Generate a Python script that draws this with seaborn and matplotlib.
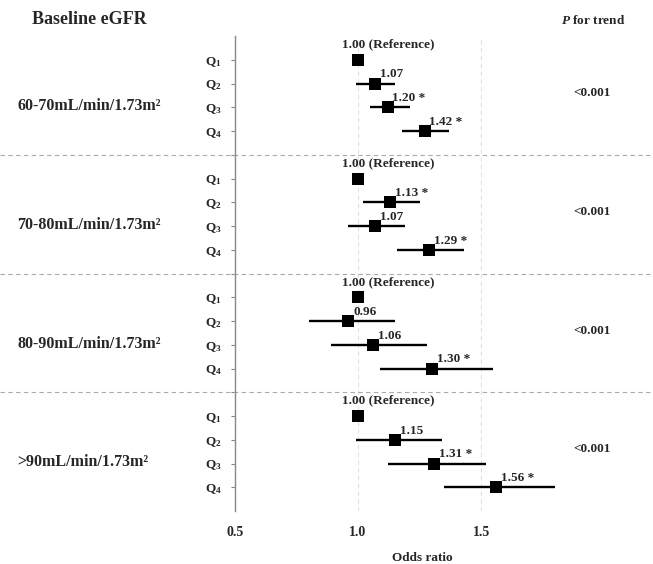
import matplotlib
matplotlib.use("Agg")
import matplotlib.pyplot as plt
import matplotlib.transforms as mtransforms
import numpy as np
import pandas as pd
import seaborn as sns

# ---------------- data ----------------
groups = ["60-70mL/min/1.73m²", "70-80mL/min/1.73m²", "80-90mL/min/1.73m²", ">90mL/min/1.73m²"]
quartiles = ["Q$_1$", "Q$_2$", "Q$_3$", "Q$_4$"]
# plotted point positions (as drawn in the figure)
or_g1 = [1.00, 1.07, 1.12, 1.27]
or_g2 = [1.00, 1.13, 1.07, 1.29]
or_g3 = [1.00, 0.96, 1.06, 1.30]
or_g4 = [1.00, 1.15, 1.31, 1.56]
lo_g1 = [np.nan, 0.99, 1.05, 1.18]
hi_g1 = [np.nan, 1.15, 1.21, 1.37]
lo_g2 = [np.nan, 1.02, 0.96, 1.16]
hi_g2 = [np.nan, 1.25, 1.19, 1.43]
lo_g3 = [np.nan, 0.80, 0.89, 1.09]
hi_g3 = [np.nan, 1.15, 1.28, 1.55]
lo_g4 = [np.nan, 0.99, 1.12, 1.35]
hi_g4 = [np.nan, 1.34, 1.52, 1.80]
# printed value labels
lab_g1 = ["1.00 (Reference)", "1.07", "1.20 *", "1.42 *"]
lab_g2 = ["1.00 (Reference)", "1.13 *", "1.07", "1.29 *"]
lab_g3 = ["1.00 (Reference)", "0.96", "1.06", "1.30 *"]
lab_g4 = ["1.00 (Reference)", "1.15", "1.31 *", "1.56 *"]
p_trend = ["<0.001", "<0.001", "<0.001", "<0.001"]
x_ticks = [0.5, 1.0, 1.5]

ors = [or_g1, or_g2, or_g3, or_g4]
los = [lo_g1, lo_g2, lo_g3, lo_g4]
his = [hi_g1, hi_g2, hi_g3, hi_g4]
labs = [lab_g1, lab_g2, lab_g3, lab_g4]

rows = []
for g in range(4):
    for q in range(4):
        rows.append(dict(group=g, q=q, row=g * 5 + q + 1, OR=ors[g][q],
                         lo=los[g][q], hi=his[g][q], label=labs[g][q]))
df = pd.DataFrame(rows)

# ---------------- style ----------------
sns.set_theme(style="white")
plt.rcParams["font.family"] = ["Liberation Serif", "DejaVu Serif"]
plt.rcParams["font.weight"] = "bold"
plt.rcParams["mathtext.fontset"] = "custom"
plt.rcParams["mathtext.rm"] = "Liberation Serif:bold"
plt.rcParams["mathtext.it"] = "Liberation Serif:italic:bold"
plt.rcParams["mathtext.bf"] = "Liberation Serif:bold"

fig = plt.figure(figsize=(6.53, 5.64), dpi=100)
ax = fig.add_axes([235 / 653, 1 - 511 / 564, (555 - 235) / 653, (511 - 36) / 564])

ax.set_xlim(0.5, 1.8)
ax.set_ylim(20, 0)

# vertical light grid lines
for xv in [1.0, 1.5]:
    ax.axvline(xv, color="#e0e0e0", lw=0.8, ls=(0, (4, 3)), zorder=0)

# CI lines
ci = df.dropna(subset=["lo"])
ax.hlines(ci["row"], ci["lo"], ci["hi"], color="black", lw=1.7, zorder=2)

# markers
sns.scatterplot(data=df, x="OR", y="row", marker="s", s=72, color="black",
                edgecolor="black", linewidth=0, ax=ax, zorder=3, legend=False)

# value labels
for _, r in df.iterrows():
    if r["q"] == 0:
        ax.text(0.935, r["row"] - 0.65, r["label"], ha="left", va="center",
                fontsize=9.5, fontweight="bold")
    else:
        ax.annotate(r["label"], (r["OR"], r["row"]), xytext=(3.5, 6.5),
                    textcoords="offset points", ha="left", va="center",
                    fontsize=9.5, fontweight="bold")

# separators across full figure width
trans = mtransforms.blended_transform_factory(fig.transFigure, ax.transData)
for s in [5, 10, 15]:
    ax.plot([0, 1], [s, s], transform=trans, color="#aaaaaa", lw=0.8,
            ls=(0, (4, 3)), clip_on=False, zorder=1)

# y ticks: quartile labels
yt = list(df["row"]) + [5, 10, 15]
ylabels = [quartiles[q] for q in df["q"]] + ["", "", ""]
ax.set_yticks(yt)
ax.set_yticklabels(ylabels, fontsize=9.5, fontweight="bold")
ax.tick_params(axis="y", direction="out", length=3, width=0.8, color="#888888",
               pad=6.5, left=True)

ax.set_xticks(x_ticks)
ax.set_xticklabels([f"{v:.1f}" for v in x_ticks], fontsize=10, fontweight="bold")
ax.tick_params(axis="x", length=0, pad=11)
ax.set_xlabel("")
ax.set_ylabel("")

for sp in ["top", "right", "bottom"]:
    ax.spines[sp].set_visible(False)
ax.spines["left"].set_color("#888888")
ax.spines["left"].set_linewidth(1.0)

# group labels
for g in range(4):
    ax.text(17 / 653, g * 5 + 2.95, groups[g], transform=trans, ha="left",
            va="center", fontsize=11.5, fontweight="bold")
    ax.text(592 / 653, g * 5 + 2.4, p_trend[g], transform=trans, ha="center",
            va="center", fontsize=9.5, fontweight="bold")

fig.text(32 / 653, 1 - 20 / 564, "Baseline eGFR", ha="left", va="center",
         fontsize=13, fontweight="bold")
fig.text(593 / 653, 1 - 20 / 564, "$\\mathit{P}$ for trend", ha="center", va="center",
         fontsize=9.5, fontweight="bold")
fig.text(422 / 653, 1 - 558 / 564, "Odds ratio", ha="center", va="center",
         fontsize=9.5, fontweight="bold")

fig.savefig("out.png", dpi=100)
